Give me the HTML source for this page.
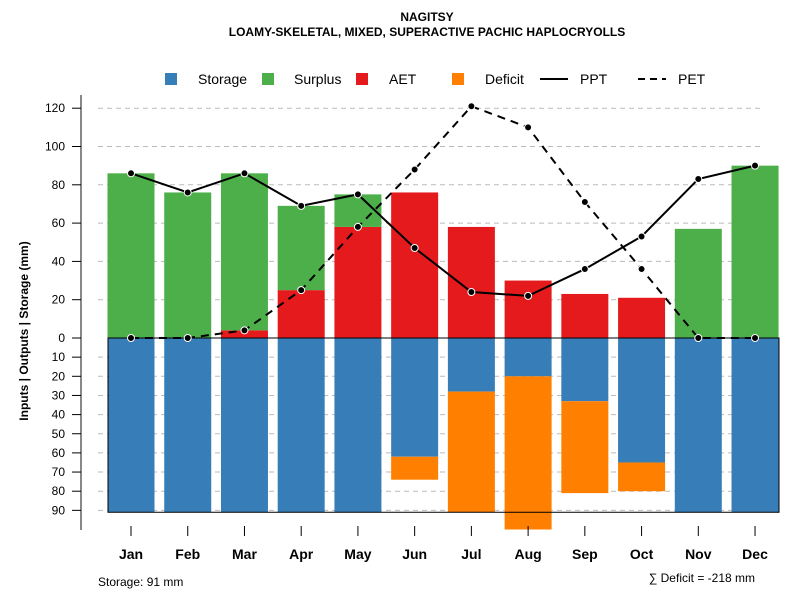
<!DOCTYPE html>
<html><head><meta charset="utf-8"><style>body{margin:0;background:#fff}svg{display:block;font-family:"Liberation Sans",sans-serif}</style></head>
<body>
<svg id="c" width="800" height="600">
<text x="427" y="21" text-anchor="middle" font-size="12" font-weight="bold">NAGITSY</text>
<text x="427" y="36" text-anchor="middle" font-size="12" font-weight="bold">LOAMY-SKELETAL, MIXED, SUPERACTIVE PACHIC HAPLOCRYOLLS</text>
<g id="legend">
<rect x="165" y="73" width="12" height="12" fill="#377eb8"/><text x="198" y="84" font-size="14">Storage</text>
<rect x="262" y="73" width="12" height="12" fill="#4daf4a"/><text x="294" y="84" font-size="14">Surplus</text>
<rect x="356" y="73" width="12" height="12" fill="#e41a1c"/><text x="389" y="84" font-size="14">AET</text>
<rect x="452" y="73" width="12" height="12" fill="#ff7f00"/><text x="485" y="84" font-size="14">Deficit</text>
<line x1="540" y1="79" x2="568" y2="79" stroke="#000" stroke-width="2"/><text x="580" y="84" font-size="14">PPT</text>
<line x1="638" y1="79" x2="666" y2="79" stroke="#000" stroke-width="2" stroke-dasharray="7,5"/><text x="678" y="84" font-size="14">PET</text>
</g>
<text transform="translate(28,331) rotate(-90)" text-anchor="middle" font-size="12" font-weight="bold">Inputs | Outputs | Storage    (mm)</text>
<text x="98" y="586" font-size="12">Storage: 91 mm</text>
<text x="755" y="582" text-anchor="end" font-size="12">∑ Deficit = -218 mm</text>
</svg>
<script>
const months=["Jan","Feb","Mar","Apr","May","Jun","Jul","Aug","Sep","Oct","Nov","Dec"];
const aet=[0,0,4,25,58,76,58,30,23,21,0,0];
const surplus=[86,76,82,44,17,0,0,0,0,0,57,90];
const storage=[91,91,91,91,91,62,28,20,33,65,91,91];
const deficit=[0,0,0,0,0,12,63,80,48,15,0,0];
const ppt=[86,76,86,69,75,47,24,22,36,53,83,90];
const pet=[0,0,4,25,58,88,121,110,71,36,0,0];
const upTicks=[0,20,40,60,80,100,120];
const downTicks=[10,20,30,40,50,60,70,80,90];
const storageMax=91;
const svg=document.getElementById('c');const NS='http://www.w3.org/2000/svg';
const y0=338,k=1.915;
const yUp=v=>y0-v*k, yDn=v=>y0+v*k;
const xC=i=>131+i*56.73, bw=47;
function mk(t,a,p){const e=document.createElementNS(NS,t);for(const q in a)e.setAttribute(q,a[q]);(p||svg).appendChild(e);return e;}
const g=mk('g',{});


mk('line',{x1:81,y1:95,x2:81,y2:530,stroke:'#888','stroke-width':2},g);
upTicks.forEach(v=>{const y=yUp(v);
 if(v>0)mk('line',{x1:98,y1:y,x2:760,y2:y,stroke:'#bbb','stroke-dasharray':'5,4'},g);
 mk('line',{x1:72,y1:y,x2:81,y2:y,stroke:'#000'},g);
 const t=mk('text',{x:65,y:y+4,'text-anchor':'end','font-size':12},g);t.textContent=v;
 
 });
downTicks.forEach(v=>{const y=yDn(v);
 mk('line',{x1:98,y1:y,x2:760,y2:y,stroke:'#bbb','stroke-dasharray':'5,4'},g);
 mk('line',{x1:72,y1:y,x2:81,y2:y,stroke:'#000'},g);
 const t=mk('text',{x:65,y:y+4,'text-anchor':'end','font-size':12},g);t.textContent=v;
 
 });
months.forEach((m,i)=>{const x=xC(i),l=x-bw/2;
 let r=mk('rect',{x:l,y:yUp(aet[i]),width:bw,height:aet[i]*k,fill:'#e41a1c'},g);
 
 
 r=mk('rect',{x:l,y:yUp(aet[i]+surplus[i]),width:bw,height:surplus[i]*k,fill:'#4daf4a'},g);
 
 
 r=mk('rect',{x:l,y:y0,width:bw,height:storage[i]*k,fill:'#377eb8'},g);
 
 
 r=mk('rect',{x:l,y:yDn(storage[i]),width:bw,height:deficit[i]*k,fill:'#ff7f00'},g);
 
 
 mk('line',{x1:x,y1:526,x2:x,y2:536,stroke:'#000'},g);
 const t=mk('text',{x:x,y:559,'text-anchor':'middle','font-size':14,'font-weight':'bold'},g);t.textContent=m;
 
 });
const box=mk('rect',{x:108,y:y0,width:671,height:storageMax*k,fill:'none',stroke:'#000'},g);


function line(arr,dash,name){const p=mk('polyline',{points:arr.map((v,i)=>xC(i)+','+yUp(v)).join(' '),fill:'none',stroke:'#000','stroke-width':2,'stroke-dasharray':dash},g);
 
 
 arr.forEach((v,i)=>{const c=mk('circle',{cx:xC(i),cy:yUp(v),r:3.5,fill:'#000',stroke:'#fff','stroke-width':1},g);
 
 });}
line(pet,'8,6','pet-line');line(ppt,'none','ppt-line');
</script>
</body></html>
